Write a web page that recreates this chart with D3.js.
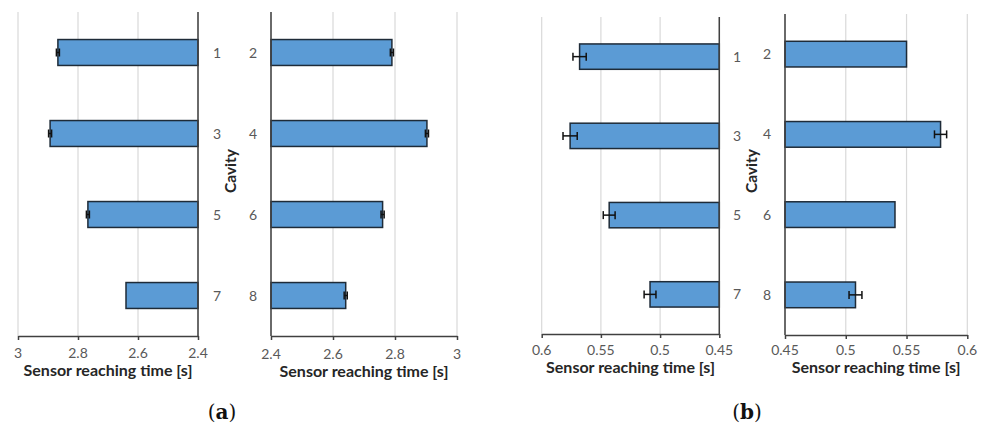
<!DOCTYPE html>
<html>
<head>
<meta charset="utf-8">
<script src="https://cdn.jsdelivr.net/npm/d3@7"></script>
<style>
  html, body { margin: 0; padding: 0; background: #fff; }
  svg { display: block; }
</style>
</head>
<body>
<svg id="chart" width="982" height="428"></svg>
<script>
// Sensor reaching time per cavity, two measurement sets (a) and (b)
const cavitiesOdd  = ["1", "3", "5", "7"];
const cavitiesEven = ["2", "4", "6", "8"];

const timesA_odd  = [2.867, 2.893, 2.767, 2.640];
const errA_odd    = [0.005, 0.005, 0.005, 0];
const timesA_even = [2.790, 2.903, 2.760, 2.641];
const errA_even   = [0.005, 0.005, 0.005, 0.005];

const timesB_odd  = [0.568, 0.576, 0.543, 0.5085];
const errB_odd    = [0.0056, 0.006, 0.005, 0.005];
const timesB_even = [0.550, 0.578, 0.5405, 0.508];
const errB_even   = [0, 0.005, 0, 0.0053];

const ticksA = [3, 2.8, 2.6, 2.4];
const ticksB = [0.6, 0.55, 0.5, 0.45];

const axisTitle = "Sensor reaching time [s]";
const catTitle = "Cavity";

const FONT = "Lato, 'Open Sans', sans-serif";
const BAR_FILL = "#5B9BD5";
const BAR_STROKE = "#1E2B38";
const GRID = "#D9D9D9";
const AXIS = "#404040";
const TICK_TXT = "#595959";

const svg = d3.select("#chart");

// panel layout: value axis extent, category band extent, label positions
const panels = [
  { cats: cavitiesOdd,  vals: timesA_odd,  errs: errA_odd,  ticks: ticksA,
    domain: [3, 2.4], range: [18, 198], top: 12, bottom: 336,
    base: 2.4, catX: 217, tickY: 358, titleY: 376 },
  { cats: cavitiesEven, vals: timesA_even, errs: errA_even, ticks: ticksA,
    domain: [2.4, 3], range: [271, 457], top: 12, bottom: 336,
    base: 2.4, catX: 253, tickY: 359, titleY: 377 },
  { cats: cavitiesOdd,  vals: timesB_odd,  errs: errB_odd,  ticks: ticksB,
    domain: [0.6, 0.45], range: [541.7, 719.3], top: 17, bottom: 334,
    base: 0.45, catX: 737, tickY: 355, titleY: 373 },
  { cats: cavitiesEven, vals: timesB_even, errs: errB_even, ticks: ticksB,
    domain: [0.45, 0.6], range: [785, 967.3], top: 14, bottom: 335,
    base: 0.45, catX: 767, tickY: 355, titleY: 373 }
];

panels.forEach(p => {
  const g = svg.append("g");
  const x = d3.scaleLinear().domain(p.domain).range(p.range);
  const y = d3.scaleBand().domain(p.cats).range([p.top, p.bottom])
    .paddingInner(0.68).paddingOuter(0.34);

  // vertical gridlines
  g.selectAll("line.grid").data(p.ticks).join("line")
    .attr("class", "grid")
    .attr("x1", d => x(d)).attr("x2", d => x(d))
    .attr("y1", p.top).attr("y2", p.bottom)
    .attr("stroke", GRID).attr("stroke-width", 1.2);

  // bars
  const data = p.cats.map((c, i) => ({ c, v: p.vals[i], e: p.errs[i] }));
  g.selectAll("rect.bar").data(data).join("rect")
    .attr("class", "bar")
    .attr("x", d => Math.min(x(d.v), x(p.base)))
    .attr("width", d => Math.abs(x(d.v) - x(p.base)))
    .attr("y", d => y(d.c))
    .attr("height", y.bandwidth())
    .attr("fill", BAR_FILL)
    .attr("stroke", BAR_STROKE).attr("stroke-width", 1.5);

  // error bars (skipped where the spread is negligible)
  const eb = g.selectAll("g.err").data(data.filter(d => d.e > 0))
    .join("g").attr("class", "err");
  const cy = d => y(d.c) + y.bandwidth() / 2;
  eb.append("line")
    .attr("x1", d => x(d.v - d.e)).attr("x2", d => x(d.v + d.e))
    .attr("y1", cy).attr("y2", cy)
    .attr("stroke", "#111").attr("stroke-width", 1.5);
  [-1, 1].forEach(s => {
    eb.append("line")
      .attr("x1", d => x(d.v + s * d.e)).attr("x2", d => x(d.v + s * d.e))
      .attr("y1", d => cy(d) - 4).attr("y2", d => cy(d) + 4)
      .attr("stroke", "#111").attr("stroke-width", 1.5);
  });

  // vertical category axis line at the base value
  g.append("line")
    .attr("x1", x(p.base)).attr("x2", x(p.base))
    .attr("y1", p.top).attr("y2", p.bottom)
    .attr("stroke", AXIS).attr("stroke-width", 1.5);

  // bottom value axis
  const axis = d3.axisBottom(x).tickValues(p.ticks).tickSize(4).tickSizeOuter(0)
    .tickFormat(d3.format("~g"));
  const ax = g.append("g").attr("transform", `translate(0,${p.bottom})`).call(axis);
  ax.select(".domain").attr("stroke", AXIS).attr("stroke-width", 1.5);
  ax.selectAll(".tick line").attr("stroke", AXIS).attr("stroke-width", 1.5);
  ax.selectAll(".tick text").remove();

  g.selectAll("text.tick").data(p.ticks).join("text")
    .attr("class", "tick")
    .attr("x", d => x(d)).attr("y", p.tickY)
    .attr("text-anchor", "middle")
    .attr("font-family", FONT).attr("font-size", 14)
    .attr("fill", TICK_TXT)
    .text(d3.format("~g"));

  // category labels
  g.selectAll("text.cat").data(p.cats).join("text")
    .attr("class", "cat")
    .attr("x", p.catX).attr("y", d => y(d) + y.bandwidth() / 2 + 5)
    .attr("text-anchor", "middle")
    .attr("font-family", FONT).attr("font-size", 14)
    .attr("fill", TICK_TXT)
    .text(d => d);

  // value axis title
  g.append("text")
    .attr("x", (p.range[0] + p.range[1]) / 2).attr("y", p.titleY)
    .attr("text-anchor", "middle")
    .attr("font-family", FONT).attr("font-size", 16).attr("font-weight", "bold")
    .attr("fill", "#262626")
    .text(axisTitle);
});

// shared category titles between the paired panels
[[231, 171], [752, 171]].forEach(([cx, cy]) => {
  svg.append("text")
    .attr("transform", `translate(${cx},${cy}) rotate(-90)`)
    .attr("text-anchor", "middle").attr("dy", "0.35em")
    .attr("font-family", FONT).attr("font-size", 15.5).attr("font-weight", "bold")
    .attr("fill", "#262626")
    .text(catTitle);
});

// sub-figure letters
[["a", 222], ["b", 747]].forEach(([letter, cx]) => {
  const t = svg.append("text")
    .attr("x", cx).attr("y", 419)
    .attr("text-anchor", "middle")
    .attr("font-family", "'DejaVu Serif', 'Liberation Serif', serif")
    .attr("font-size", 20).attr("fill", "#111");
  t.append("tspan").text("(");
  t.append("tspan").attr("font-weight", "bold").text(letter);
  t.append("tspan").text(")");
});
</script>
</body>
</html>
